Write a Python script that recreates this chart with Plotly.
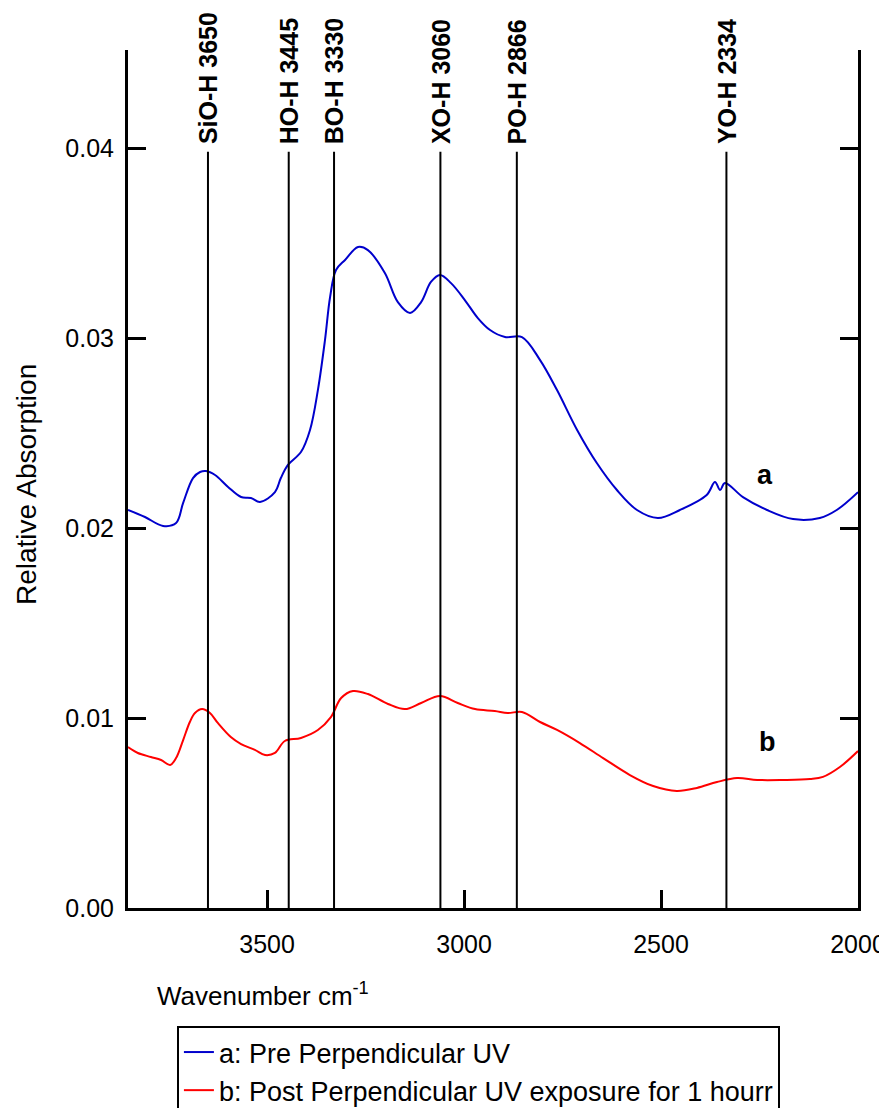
import plotly.graph_objects as go

# Spectrum a: Pre Perpendicular UV
wn_a = [3853, 3810, 3764, 3731, 3713, 3688, 3670, 3655, 3632, 3599, 3566, 3541, 3518, 3480,
        3465, 3447, 3414, 3391, 3371, 3353, 3340, 3325, 3302, 3269, 3244, 3201, 3168, 3137,
        3109, 3084, 3061, 3033, 2998, 2965, 2934, 2896, 2853, 2807, 2764, 2713, 2663, 2612,
        2561, 2508, 2452, 2384, 2363, 2350, 2338, 2292, 2231, 2165, 2097, 2054, 2000]
abs_a = [0.02095, 0.02058, 0.02011, 0.02026, 0.02132, 0.02263, 0.02295, 0.02300, 0.02279,
         0.02216, 0.02163, 0.02158, 0.02137, 0.02189, 0.02263, 0.02332, 0.02400, 0.02516,
         0.02726, 0.02989, 0.03216, 0.03358, 0.03411, 0.03479, 0.03463, 0.03342, 0.03189,
         0.03132, 0.03189, 0.03295, 0.03332, 0.03289, 0.03200, 0.03105, 0.03042, 0.03005,
         0.03005, 0.02884, 0.02726, 0.02516, 0.02342, 0.02200, 0.02095, 0.02053, 0.02095,
         0.02174, 0.02242, 0.02200, 0.02237, 0.02163, 0.02095, 0.02047, 0.02053, 0.02095,
         0.02189]

# Spectrum b: Post Perpendicular UV exposure
wn_b = [3853, 3828, 3795, 3769, 3746, 3731, 3713, 3696, 3683, 3665, 3645, 3625, 3592, 3566,
        3531, 3505, 3480, 3455, 3414, 3371, 3338, 3312, 3282, 3244, 3193, 3150, 3109, 3061,
        3016, 2972, 2922, 2889, 2853, 2807, 2764, 2706, 2647, 2579, 2520, 2460, 2409, 2358,
        2307, 2256, 2190, 2122, 2089, 2046, 2000]
abs_b = [0.00847, 0.00816, 0.00795, 0.00779, 0.00753, 0.00789, 0.00884, 0.00979, 0.01026,
         0.01047, 0.01026, 0.00974, 0.00900, 0.00863, 0.00832, 0.00805, 0.00816, 0.00879,
         0.00895, 0.00937, 0.01005, 0.01105, 0.01142, 0.01126, 0.01074, 0.01047, 0.01079,
         0.01116, 0.01079, 0.01047, 0.01037, 0.01026, 0.01032, 0.00979, 0.00937, 0.00868,
         0.00789, 0.00700, 0.00642, 0.00616, 0.00632, 0.00663, 0.00684, 0.00674, 0.00674,
         0.00679, 0.00690, 0.00742, 0.00826]

# Peak assignments
peak_pos = [3650, 3445, 3330, 3060, 2866, 2334]
peak_labels = ["SiO-H 3650", "HO-H 3445", "BO-H 3330", "XO-H 3060", "PO-H 2866", "YO-H 2334"]

y_ticks = [0.00, 0.01, 0.02, 0.03, 0.04]
x_ticks = [3500, 3000, 2500, 2000]

FONT = "Liberation Sans, Arial, sans-serif"

fig = go.Figure()
fig.add_trace(go.Scatter(x=wn_a, y=abs_a, mode="lines", line=dict(color="#0000CC", width=2),
                         line_shape="spline", name="a: Pre Perpendicular UV"))
fig.add_trace(go.Scatter(x=wn_b, y=abs_b, mode="lines", line=dict(color="#FF0000", width=2),
                         line_shape="spline", name="b: Post Perpendicular UV exposure for 1 hourr"))

for p, lab in zip(peak_pos, peak_labels):
    fig.add_shape(type="line", x0=p, x1=p, y0=0, y1=0.0398, xref="x", yref="y",
                  line=dict(color="black", width=2))
    fig.add_annotation(x=p, y=0.0401, xref="x", yref="y", text=lab, textangle=-90,
                       showarrow=False, xanchor="center", yanchor="bottom",
                       font=dict(family=FONT, size=25, color="black", weight="bold"))

fig.add_annotation(x=2236, y=0.02279, xref="x", yref="y", text="a", showarrow=False,
                   font=dict(family=FONT, size=27, color="black", weight="bold"))
fig.add_annotation(x=2231, y=0.00874, xref="x", yref="y", text="b", showarrow=False,
                   font=dict(family=FONT, size=27, color="black", weight="bold"))

fig.add_annotation(x=0.037, y=-0.101, xref="paper", yref="paper",
                   text="Wavenumber cm<sup>-1</sup>", showarrow=False,
                   xanchor="left", yanchor="middle",
                   font=dict(family=FONT, size=26, color="black"))
fig.add_annotation(x=-0.1397, y=0.493, xref="paper", yref="paper",
                   text="Relative Absorption", showarrow=False, textangle=-90,
                   xanchor="center", yanchor="middle",
                   font=dict(family=FONT, size=28, color="black"))

fig.update_layout(
    width=879, height=1100,
    margin=dict(l=120, r=29, t=42, b=200),
    plot_bgcolor="white", paper_bgcolor="white",
    font=dict(family=FONT, size=25, color="black"),
    showlegend=True,
    legend=dict(xref="paper", yref="container", x=0.067, y=0.07455,
                xanchor="left", yanchor="top",
                bordercolor="black", borderwidth=2, bgcolor="white",
                font=dict(family=FONT, size=27, color="black"),
                tracegroupgap=0),
    xaxis=dict(range=[3853, 2000], tickvals=x_ticks, ticktext=[str(v) for v in x_ticks],
               showgrid=False, zeroline=False, showline=True, linecolor="black", linewidth=3,
               ticks="inside", ticklen=18, tickwidth=3, tickcolor="black", mirror=False,
               automargin=False,
               ticklabelstandoff=12, tickfont=dict(family=FONT, size=25, color="black")),
    yaxis=dict(range=[0, 0.04516], tickvals=y_ticks, tickformat=".2f",
               showgrid=False, zeroline=False, showline=True, linecolor="black", linewidth=3,
               ticks="inside", ticklen=18, tickwidth=3, tickcolor="black", mirror="ticks",
               automargin=False,
               ticklabelstandoff=6, tickfont=dict(family=FONT, size=25, color="black")),
)

fig.write_html("out.html")
